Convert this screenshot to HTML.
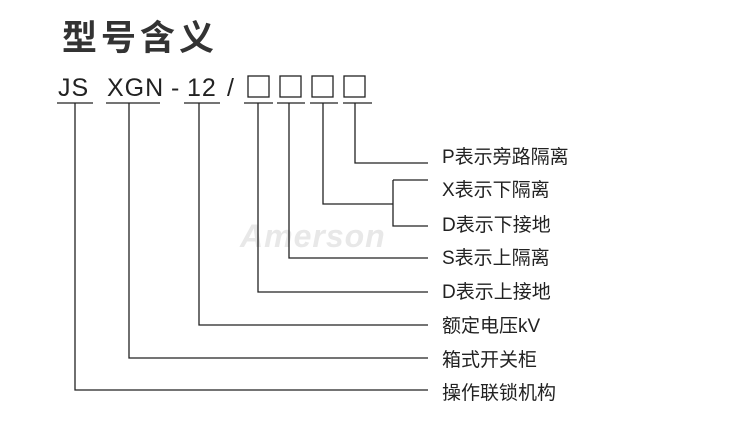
<!DOCTYPE html>
<html><head><meta charset="utf-8"><style>
html,body{margin:0;padding:0;background:#fff;width:750px;height:423px;overflow:hidden}
.t{position:absolute;font-family:"Liberation Sans","Noto Sans CJK SC",sans-serif;color:#222;white-space:nowrap}
</style></head><body>
<div class="t" style="left:62px;top:10px;font-size:35px;font-weight:bold;letter-spacing:4px;font-family:'Noto Sans CJK SC',sans-serif;color:#333">型号含义</div>
<div class="t" style="left:240px;top:218px;font-size:32px;font-weight:bold;font-style:italic;color:#e8e8e8;letter-spacing:1px">Amerson</div>
<svg width="750" height="423" style="position:absolute;left:0;top:0">
<g font-family="Liberation Sans, sans-serif" font-size="25" fill="#222">
<text x="58" y="96" letter-spacing="1">JS</text>
<text x="107" y="96" letter-spacing="1">XGN</text>
<text x="171" y="96">-</text>
<text x="187" y="96" letter-spacing="1">12</text>
<text x="227" y="96">/</text>
</g>
<g fill="none" stroke="#222" stroke-width="1.3">
<rect x="248" y="76" width="21" height="21"/>
<rect x="280" y="76" width="21" height="21"/>
<rect x="312" y="76" width="21" height="21"/>
<rect x="344" y="76" width="21" height="21"/>
<path d="M57 103H93M106 103H160M184 103H220M244 103H273M277 103H305M310 103H338M343 103H372"/>
<path d="M355 103V163H428"/>
<path d="M323 103V204H393M393 180H428M393 180V226H428"/>
<path d="M289 103V258H428"/>
<path d="M258 103V292H428"/>
<path d="M199 103V325H428"/>
<path d="M129 103V358H428"/>
<path d="M75 103V390H428"/>
</g>
<g font-family="Liberation Sans, Noto Sans CJK SC, sans-serif" font-size="19" fill="#222">
<text x="442" y="163">P表示旁路隔离</text>
<text x="442" y="196">X表示下隔离</text>
<text x="442" y="231">D表示下接地</text>
<text x="442" y="264">S表示上隔离</text>
<text x="442" y="298">D表示上接地</text>
<text x="442" y="332">额定电压kV</text>
<text x="442" y="366">箱式开关柜</text>
<text x="442" y="399">操作联锁机构</text>
</g>
</svg>
</body></html>
